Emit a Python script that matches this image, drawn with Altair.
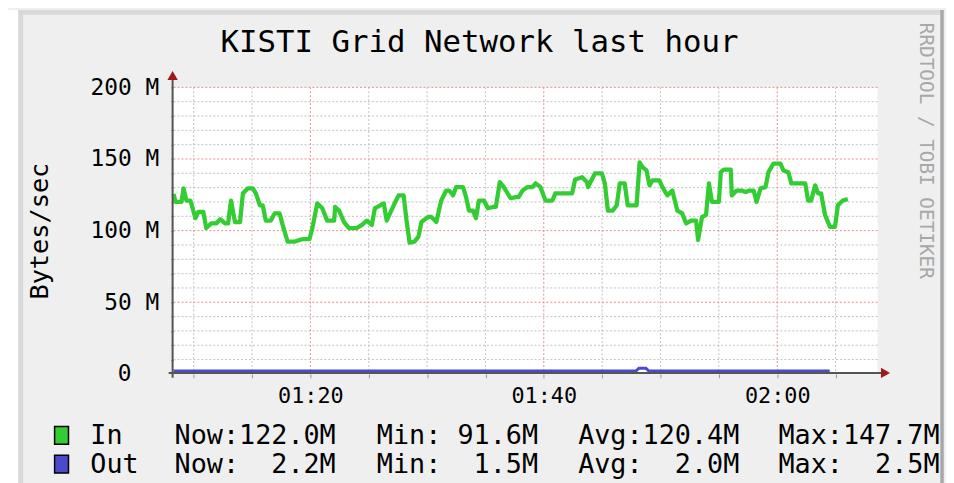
import altair as alt
import pandas as pd

MONO = "DejaVu Sans Mono"
NB = "\u00a0"

# ---- data (x in minutes after 01:00, values in MBytes/sec) ----
in_minutes = [
    8.28, 8.45, 8.96, 9.13, 9.38, 9.72, 10.15, 10.40, 10.83, 11.08,
    11.50, 11.93, 12.27, 12.69, 12.95, 13.20, 13.54, 13.97, 14.22, 14.65,
    15.07, 15.33, 15.67, 15.92, 16.18, 16.60, 16.94, 17.37, 17.62, 18.05,
    18.64, 19.07, 19.32, 19.92, 20.17, 20.59, 21.02, 21.44, 22.04, 22.12,
    22.46, 22.89, 23.31, 23.99, 24.42, 24.84, 25.27, 25.52, 26.29, 26.54,
    27.14, 27.56, 27.99, 28.24, 28.50, 28.92, 29.26, 29.52, 30.11, 30.37,
    30.79, 31.21, 31.64, 31.89, 32.23, 32.49, 33.08, 33.34, 33.59, 33.93,
    34.19, 34.44, 34.87, 35.21, 35.63, 35.89, 36.23, 36.57, 37.16, 37.59,
    37.84, 38.18, 38.61, 39.03, 39.29, 39.71, 40.14, 40.73, 40.99, 42.43,
    42.68, 43.28, 43.70, 43.79, 44.38, 44.98, 45.23, 45.49, 45.91, 46.25,
    46.51, 46.93, 47.19, 47.95, 48.21, 48.46, 48.80, 49.06, 49.31, 49.91,
    50.16, 50.59, 51.01, 51.44, 51.86, 52.20, 52.63, 53.05, 53.22, 53.56,
    53.90, 54.15, 54.41, 55.00, 55.17, 55.43, 56.02, 56.11, 56.53, 56.96,
    57.30, 57.55, 57.98, 58.23, 58.57, 59.00, 59.25, 59.68, 60.27, 60.53,
    60.95, 61.21, 62.40, 62.65, 62.91, 63.25, 63.50, 63.76, 64.10, 64.52,
    64.95, 65.20, 65.62, 66.05,
]
in_values = [
    125.6, 120, 120, 129.5, 121, 121, 108.7, 113, 113, 101.8,
    105, 105, 108, 105, 105, 121, 106, 106, 126, 129.5,
    129.5, 126, 117.7, 117.7, 107, 107, 112, 112, 104, 92.3,
    92.3, 93.5, 94, 94, 101.8, 119, 115.6, 107, 107, 116.5,
    114, 106, 101.8, 101.8, 104, 107, 104, 115.6, 119, 107,
    117.7, 124.6, 124.6, 107, 91.6, 92.3, 95.8, 106, 109.6, 109.6,
    106, 121, 128, 128, 124.6, 130.4, 130.4, 123.4, 114, 114,
    108.7, 121, 121, 115.6, 116.5, 116.5, 133.9, 130.4, 122.6, 123.4,
    123.4, 128, 130.4, 130.4, 133, 130.4, 121, 121, 126, 126,
    135.7, 137.3, 133.9, 130.4, 139.9, 139.9, 133, 114, 114, 117.7,
    133, 133, 117.7, 117.7, 147.7, 144.3, 142, 131.6, 135, 135,
    130.4, 124.6, 128, 114, 112, 105, 107, 107, 93.5, 109.6,
    110.8, 133, 120, 120, 140.8, 142.6, 142.6, 124.6, 128, 128,
    126.9, 128, 128, 120, 129.5, 130.4, 140.8, 146.8, 146.8, 142,
    140.8, 133, 133, 121, 121, 131.6, 126, 126, 110.8, 102.7,
    102.7, 117.7, 121, 122,
]
out_minutes = [8.28, 47.9, 48.15, 48.75, 49.0, 64.5]
out_values = [2.0, 2.0, 4.0, 4.0, 2.0, 2.0]

x_domain = [8.28, 68.6]
y_domain = [0, 200]
x_minor = [10, 15, 25, 30, 35, 45, 50, 55, 65]
x_major = [20, 40, 60]
x_labels = ["01:20", "01:40", "02:00"]
y_minor = [10, 20, 30, 40, 60, 70, 80, 90, 110, 120, 130, 140, 160, 170, 180, 190]
y_major = [50, 100, 150, 200]
y_labels = ["50 M", "100 M", "150 M", "200 M"]
y_zero_label = "0"

title_text = "KISTI Grid Network last hour"
y_title = "Bytes/sec"
credit_text = "RRDTOOL / TOBI OETIKER"
series_names = ["In", "Out"]
series_colors = ["#33cc33", "#4a4acc"]
stat_now = ["122.0M", "2.2M"]
stat_min = ["91.6M", "1.5M"]
stat_avg = ["120.4M", "2.0M"]
stat_max = ["147.7M", "2.5M"]

# ---- build ----
W, H = 710, 289
xs = alt.Scale(domain=x_domain, nice=False, zero=False)
ys = alt.Scale(domain=y_domain, nice=False, zero=False)
one = alt.Data(values=[{"a": 1}])

df_in = pd.DataFrame({"t": in_minutes, "val": in_values})
df_out = pd.DataFrame({"t": out_minutes, "val": out_values})


def case_expr(vals, labels):
    parts = []
    for v, l in zip(vals, labels):
        parts.append(f"datum.value == {v} ? '{l}' : ")
    return "".join(parts) + "''"


layers = []

# frame decorations
layers.append(alt.Chart(one).mark_rect(color="white").encode(
    x=alt.value(-167), x2=alt.value(-156.5), y=alt.value(-78), y2=alt.value(410)))
layers.append(alt.Chart(one).mark_rule(color="#d9d9d9", strokeWidth=4.6).encode(
    x=alt.value(-156.5), x2=alt.value(774), y=alt.value(-75.6)))
layers.append(alt.Chart(one).mark_rule(color="#d9d9d9", strokeWidth=5).encode(
    x=alt.value(-154.2), y=alt.value(-78), y2=alt.value(410)))
layers.append(alt.Chart(one).mark_rule(color="#a8a8a8", strokeWidth=3.5).encode(
    x=alt.value(775), y=alt.value(-78), y2=alt.value(410)))

# grid
layers.append(alt.Chart(pd.DataFrame({"g": x_minor})).mark_rule(
    color="#c0c0c0", strokeWidth=1, strokeDash=[2, 2]).encode(
    x=alt.X("g:Q", scale=xs, axis=None)))
layers.append(alt.Chart(pd.DataFrame({"g": y_minor})).mark_rule(
    color="#c0c0c0", strokeWidth=1, strokeDash=[2, 2]).encode(
    y=alt.Y("g:Q", scale=ys, axis=None)))
layers.append(alt.Chart(pd.DataFrame({"g": x_major})).mark_rule(
    color="#f08a8a", strokeWidth=1, strokeDash=[2, 2]).encode(
    x=alt.X("g:Q", scale=xs, axis=None)))
layers.append(alt.Chart(pd.DataFrame({"g": y_major})).mark_rule(
    color="#f08a8a", strokeWidth=1, strokeDash=[2, 2]).encode(
    y=alt.Y("g:Q", scale=ys, axis=None)))

# data lines
x_axis = alt.Axis(
    orient="bottom",
    values=sorted(x_minor + x_major), labelExpr=case_expr(x_major, x_labels),
    title=None, grid=False, domain=False, ticks=True, tickColor="#999999",
    tickSize=4, labelFont=MONO, labelFontSize=22, labelPadding=8,
    labelOverlap=False, labelFlush=False, labelColor="black")
y_axis = alt.Axis(
    orient="left",
    values=sorted(y_minor + y_major), labelExpr=case_expr(y_major, y_labels),
    title=None, grid=False, domain=False, ticks=True, tickColor="#999999",
    tickSize=3, labelFont=MONO, labelFontSize=23, labelPadding=12,
    labelOverlap=False, labelFlush=False, labelColor="black", labelBaseline="middle")
y_axis_zero = alt.Axis(
    orient="left",
    values=[0], labelExpr=f"'{y_zero_label}'",
    title=None, grid=False, domain=False, ticks=False,
    labelFont=MONO, labelFontSize=23, labelPadding=43,
    labelOverlap=False, labelFlush=False, labelColor="black", labelBaseline="middle")

layers.append(alt.Chart(df_in).mark_line(color=series_colors[0], strokeWidth=4.3,
                                         strokeJoin="round").encode(
    x=alt.X("t:Q", scale=xs, axis=x_axis),
    y=alt.Y("val:Q", scale=ys, axis=y_axis)))
layers.append(alt.Chart(df_out).mark_line(color=series_colors[1], strokeWidth=3).encode(
    x=alt.X("t:Q", scale=xs, axis=None),
    y=alt.Y("val:Q", scale=ys, axis=y_axis_zero)))

# axis lines and arrows
layers.append(alt.Chart(one).mark_rule(color="#555555", strokeWidth=2).encode(
    x=alt.value(-1), y=alt.value(-8), y2=alt.value(293)))
layers.append(alt.Chart(one).mark_rule(color="#555555", strokeWidth=2).encode(
    x=alt.value(-5), x2=alt.value(714), y=alt.value(288)))
layers.append(alt.Chart(one).mark_point(shape="triangle-up", filled=True, size=110,
                                        color="#a01818", opacity=1).encode(
    x=alt.value(-1), y=alt.value(-12)))
layers.append(alt.Chart(one).mark_point(shape="triangle-right", filled=True, size=110,
                                        color="#a01818", opacity=1).encode(
    x=alt.value(718), y=alt.value(288)))


def txt(s, x, y, size, angle=0, align="left", color="black", baseline="alphabetic"):
    return alt.Chart(one).mark_text(
        text=s, font=MONO, fontSize=size, angle=angle, align=align,
        baseline=baseline, color=color).encode(x=alt.value(x), y=alt.value(y))


layers.append(txt(title_text, 308.5, -36, 31, align="center"))
layers.append(txt(y_title, -127, 145, 25.5, angle=270, align="center"))
layers.append(txt(credit_text, 753, 64, 19.5, angle=90, align="center", color="#a8a8a8"))

# legend
row_y = [360, 389]
for i, name in enumerate(series_names):
    layers.append(alt.Chart(one).mark_rect(color=series_colors[i], stroke="black",
                                           strokeWidth=1.5).encode(
        x=alt.value(-120), x2=alt.value(-106),
        y=alt.value(row_y[i] - 18), y2=alt.value(row_y[i])))
    layers.append(txt(name, -84, row_y[i], 27))
    cols = [("Now:", stat_now[i], 1), ("Min:", stat_min[i], 205),
            ("Avg:", stat_avg[i], 408), ("Max:", stat_max[i], 610)]
    for lab, val, cx in cols:
        s = (lab + val.rjust(6)).replace(" ", NB)
        layers.append(txt(s, cx, row_y[i], 27))

chart = alt.layer(*layers).resolve_axis(x="independent", y="independent").properties(
    width=W, height=H,
    padding={"left": 167, "top": 78, "right": 69, "bottom": 108},
    autosize=alt.AutoSizeParams(type="none"),
    background="#efefef",
).configure_view(fill="white", strokeWidth=0)

chart.save("out.html", embed_options={"renderer": "svg", "actions": False})
